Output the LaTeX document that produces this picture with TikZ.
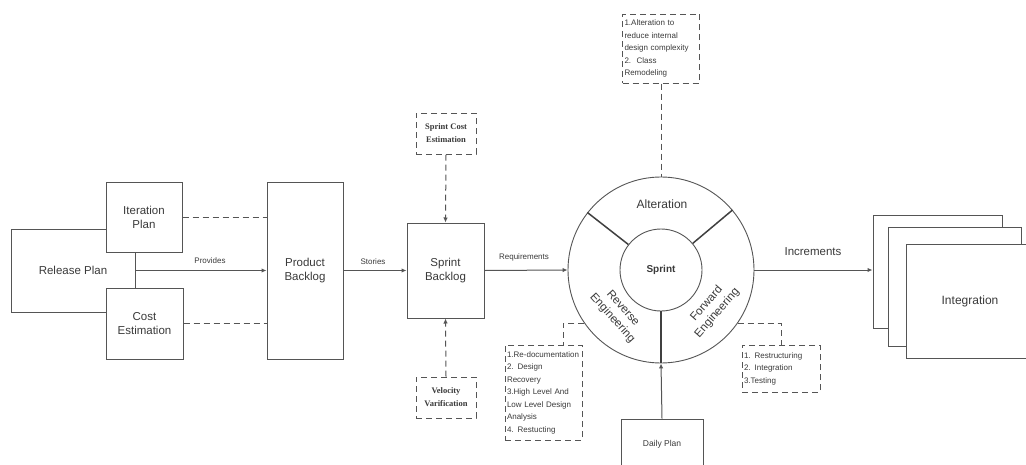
\documentclass[tikz,border=0pt]{standalone}
\usepackage{fontspec}
\setmainfont{Liberation Sans}
\newfontfamily\serifb{Liberation Serif}
\usetikzlibrary{arrows.meta,calc}
\definecolor{lc}{HTML}{555555}
\definecolor{tc}{HTML}{3A3A3A}
\begin{document}
\begin{tikzpicture}[x=1pt,y=-1pt,
  box/.style={draw=lc, fill=white, line width=1pt, inner sep=0pt, align=center,
    font=\fontsize{11.5}{14}\selectfont, text=tc},
  dbox/.style={draw=lc, fill=white, dash pattern=on 6pt off 4pt, line width=1pt, inner sep=2pt,
    align=left, font=\fontsize{8}{12.5}\selectfont, text=tc},
  sbox/.style={draw=lc, fill=white, dash pattern=on 6pt off 4pt, line width=1pt, inner sep=0pt,
    align=center, font=\serifb\bfseries\fontsize{8.5}{13}\selectfont, text=tc,
    minimum width=60pt, minimum height=41pt},
  conn/.style={draw=lc, line width=1pt},
  arr/.style={conn, -{Latex[length=5pt,width=4.5pt]}},
  dconn/.style={conn, dash pattern=on 6pt off 4pt},
  darr/.style={dconn, -{Latex[length=5pt,width=4.5pt]}},
  lab/.style={font=\fontsize{8}{10}\selectfont, text=tc, inner sep=0pt},
  big/.style={font=\fontsize{11.5}{14}\selectfont, text=tc, inner sep=0pt},
  divider/.style={draw=black!75, line width=1.5pt}]
\useasboundingbox (0,0) rectangle (1026,464);
\clip (0,0) rectangle (1026,464);
\fill[white] (0,0) rectangle (1026,464);

% left group
\node[box, minimum width=124pt, minimum height=83pt] (rel) at (73,270.5) {Release Plan};
\node[box, minimum width=76pt, minimum height=70pt] (iter) at (144,217) {Iteration\\Plan};
\node[box, minimum width=77pt, minimum height=71pt] (cost) at (144.5,323.5) {Cost\\Estimation};

\node[box, minimum width=76pt, minimum height=177pt] (pb) at (305,270.5) {Product\\Backlog};
\node[box, minimum width=77pt, minimum height=95pt] (sb) at (445.5,270.5) {Sprint\\Backlog};

\node[sbox] (sce) at (446,133.5) {Sprint Cost\\Estimation};
\node[sbox] (vv) at (446,397.5) {Velocity\\Varification};

% connectors left
\draw[arr] (rel.east) -- (rel.east -| pb.west);
\node[lab] (lprov) at (210,261) {Provides};
\draw[dconn] (iter.east) -- (iter.east -| pb.west);
\draw[dconn] (cost.east) -- (cost.east -| pb.west);
\draw[arr] (pb.east) -- (sb.west);
\node[lab] (lstor) at (373,262) {Stories};
\draw[darr] (sce.south) -- (sb.north);
\draw[darr] (vv.north) -- (sb.south);

% sprint wheel
\node[circle, draw=lc, line width=0.9pt, minimum size=186pt, inner sep=0pt] (outer) at (661,270) {};
\node[circle, draw=lc, line width=0.9pt, minimum size=82pt, inner sep=0pt,
  font=\bfseries\fontsize{10}{12}\selectfont, text=tc] (inner) at (661,270) {Sprint};
\draw[divider] (inner.142) -- (outer.142);
\draw[divider] (inner.40) -- (outer.40);
\draw[divider] (inner.south) -- (outer.south);
\node[big, font=\fontsize{12}{14}\selectfont] (lalt) at (662,204) {Alteration};
\node[big, align=center, rotate=-48] (lrev) at (617.5,313.5) {Reverse\\Engineering};
\node[big, align=center, rotate=49] (lfwd) at (712,308.5) {Forward\\Engineering};

\draw[arr] (sb.east) -- (outer.west);
\node[lab] (lreq) at (524,257) {Requirements};

% dashed notes
\node[dbox, text width=73pt, minimum height=69pt] (alt) at (661,48.5)
  {1.Alteration to\\reduce internal\\design complexity\\2.\ \ Class\\Remodeling};
\draw[dconn] (alt.south) -- (outer.north);

\node[dbox, text width=73pt, minimum height=95pt] (rev) at (543.5,392.5)
  {\mbox{1.Re-documentation}\\2. Design\\Recovery\\3.High Level And\\Low Level Design\\Analysis\\4. Restucting};
\draw[dconn] (outer.215) -| ($(rev.north)+(19.5,0)$);

\node[dbox, text width=74pt, minimum height=47pt] (fwd) at (781,368.5)
  {1. Restructuring\\2. Integration\\3.Testing};
\draw[dconn] (outer.-35) -| (fwd.north);

% daily plan
\node[box, minimum width=82pt, minimum height=51pt, font=\fontsize{8.5}{10}\selectfont] (daily) at (662,444.5) {Daily Plan};
\draw[arr] (daily.north) -- (outer.south);

% integration stack
\node[box, minimum width=129pt, minimum height=113pt] (int1) at (937.5,271.5) {};
\node[box, minimum width=133pt, minimum height=119pt] (int2) at (954.5,286.5) {};
\node[box, minimum width=128pt, minimum height=114pt, font=\fontsize{12}{14}\selectfont] (int3) at (970,301) {Integration};
\draw[arr] (outer.east) -- (outer.east -| int1.west);
\node[big] (linc) at (813,252) {Increments};
\end{tikzpicture}
\end{document}
